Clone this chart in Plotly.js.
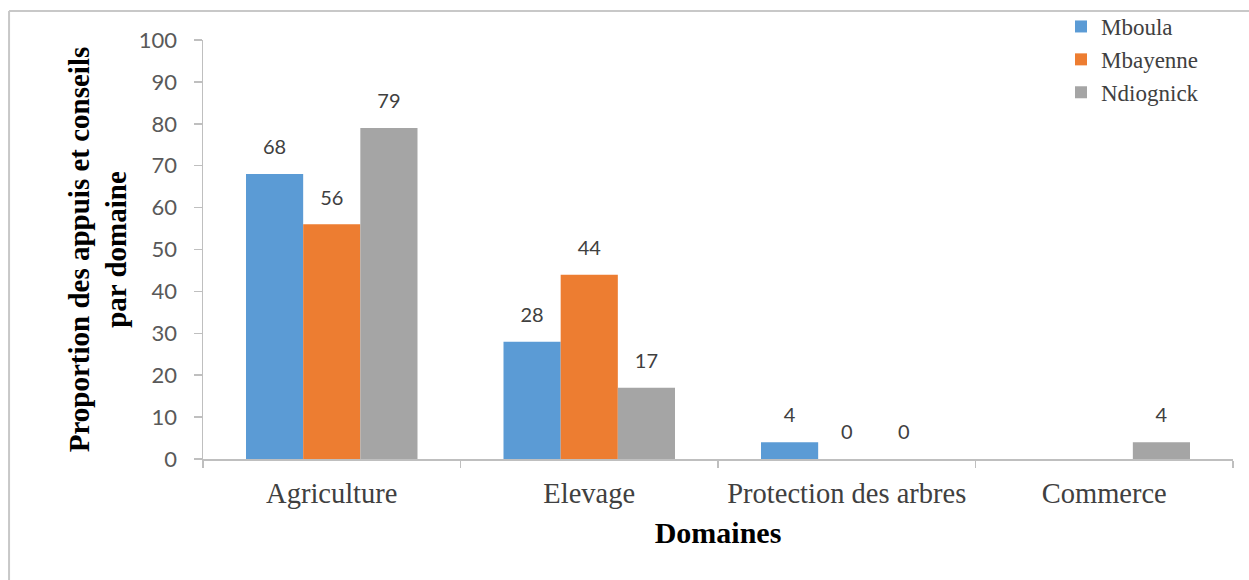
<!DOCTYPE html>
<html>
<head>
<meta charset="utf-8">
<script src="https://cdn.plot.ly/plotly-3.0.1.min.js"></script>
<style>
  html, body { margin: 0; padding: 0; background: #ffffff; }
  #chart { width: 1249px; height: 580px; }
</style>
</head>
<body>
<div id="chart"></div>
<script>
// ---- data ----
var categories = ["Agriculture", "Elevage", "Protection des arbres", "Commerce"];
var seriesNames = ["Mboula", "Mbayenne", "Ndiognick"];
var mboula    = [68, 28, 4, null];
var mbayenne  = [56, 44, 0, null];
var ndiognick = [79, 17, 0, 4];
var yTicks = [0, 10, 20, 30, 40, 50, 60, 70, 80, 90, 100];
var xTitle = "Domaines";
var yTitle = "Proportion des appuis et conseils<br>par domaine";

// ---- styles ----
var colors = ["#5B9BD5", "#ED7D31", "#A5A5A5"];
var serif = "Liberation Serif";
var sans = "Lato";
var axisGray = "#bfbfbf";

var values = [mboula, mbayenne, ndiognick];
var traces = [];
values.forEach(function (vals, i) {
  traces.push({
    type: "bar",
    name: seriesNames[i],
    x: categories,
    y: vals,
    marker: { color: colors[i] },
    hoverinfo: "x+y+name"
  });
});
// value labels: grouped scatter text, aligned with the grouped bars
values.forEach(function (vals, i) {
  traces.push({
    type: "scatter",
    mode: "markers+text",
    name: seriesNames[i] + " labels",
    showlegend: false,
    x: categories,
    y: vals,
    text: vals.map(function (v) { return v === null ? "" : String(v); }),
    textposition: "top center",
    textfont: { family: sans, size: 20, color: "#404040" },
    marker: { size: 22, opacity: 0, color: colors[i] },
    cliponaxis: false,
    hoverinfo: "skip"
  });
});

var layout = {
  width: 1249,
  height: 580,
  font: { family: serif, size: 23, color: "#404040" },
  paper_bgcolor: "#ffffff",
  plot_bgcolor: "#ffffff",
  margin: { l: 203, r: 16, t: 40, b: 121, autoexpand: false },
  barmode: "group",
  bargap: 0.334,
  bargroupgap: 0,
  scattermode: "group",
  scattergap: 0.334,
  showlegend: true,
  legend: {
    x: 0.833, xanchor: "left",
    y: 1.0835, yanchor: "top",
    font: { family: serif, size: 23, color: "#404040" },
    bgcolor: "rgba(0,0,0,0)",
    traceorder: "normal"
  },
  xaxis: {
    type: "category",
    categoryarray: categories,
    showline: true, linecolor: axisGray, linewidth: 1.5,
    ticks: "outside", tickson: "boundaries", ticklen: 7, tickcolor: axisGray, tickwidth: 1.5,
    ticklabelstandoff: 8,
    tickfont: { family: serif, size: 28.5, color: "#404040" },
    showgrid: false, zeroline: false,
    title: { text: xTitle, font: { family: serif, size: 30, color: "#000000", weight: "bold" }, standoff: 14 }
  },
  yaxis: {
    range: [0, 100],
    tickvals: yTicks,
    showline: true, linecolor: axisGray, linewidth: 1.5,
    ticks: "outside", ticklen: 8, tickcolor: axisGray, tickwidth: 1.5,
    ticklabelstandoff: 12,
    tickfont: { family: sans, size: 22, color: "#595959" },
    showgrid: false, zeroline: false,
    title: { text: yTitle, font: { family: serif, size: 29, color: "#000000", weight: "bold" }, standoff: 3 }
  },
  shapes: [
    { type: "line", xref: "paper", yref: "paper", x0: -0.1883, x1: 1.05, y0: 1.069, y1: 1.069,
      line: { color: "#c8c8c8", width: 2 } },
    { type: "line", xref: "paper", yref: "paper", x0: -0.1883, x1: -0.1883, y0: 1.069, y1: -0.35,
      line: { color: "#c8c8c8", width: 2 } }
  ]
};

Plotly.newPlot("chart", traces, layout, { displayModeBar: false, staticPlot: true });
</script>
</body>
</html>
